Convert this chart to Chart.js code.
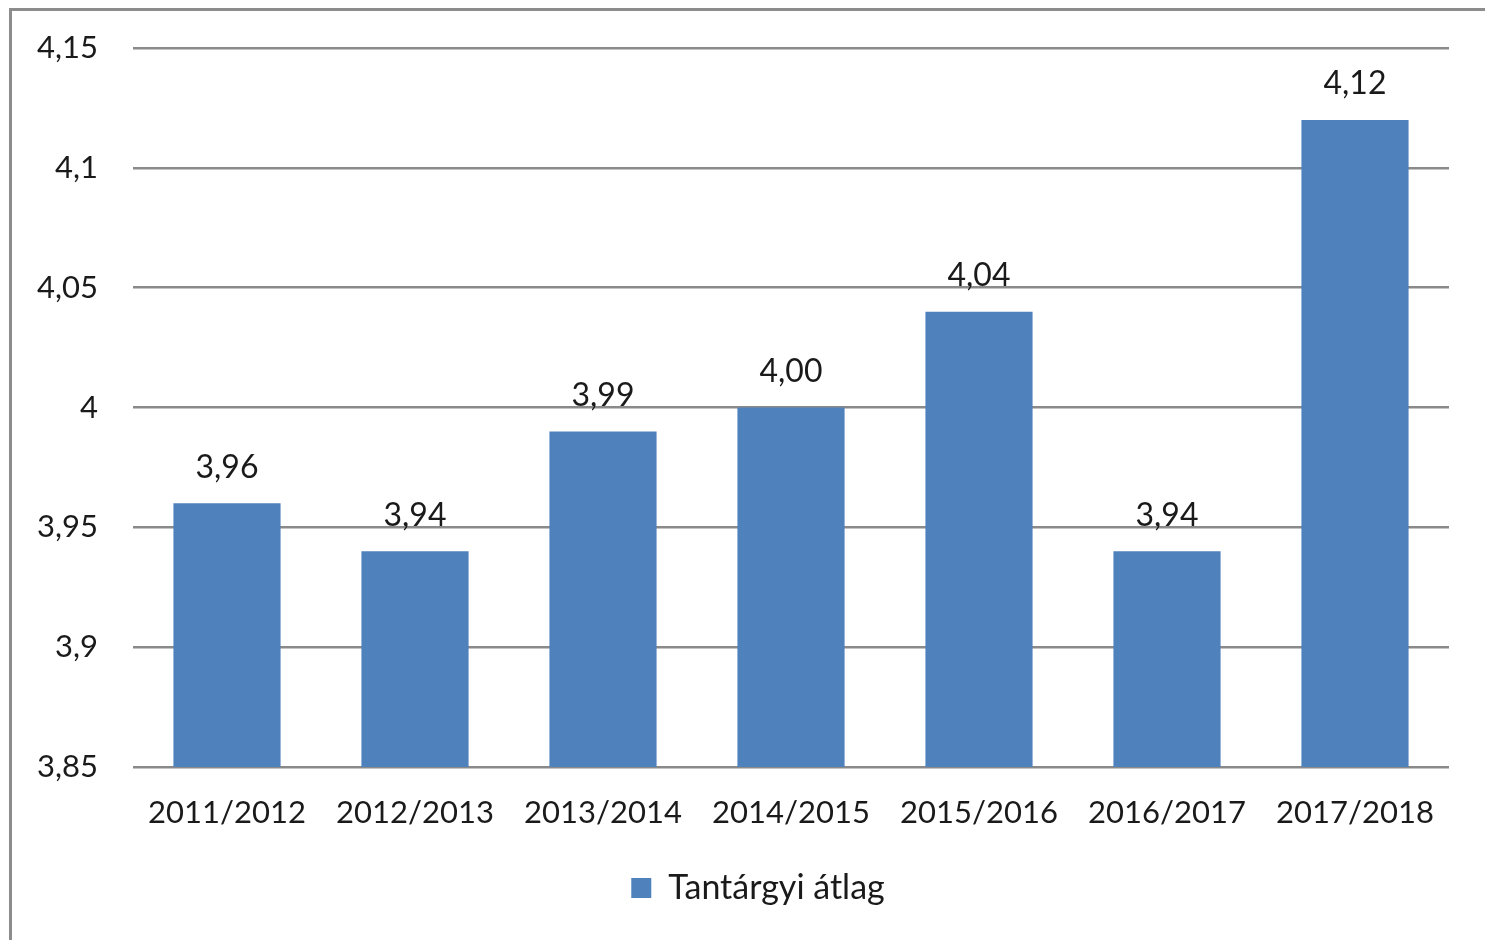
<!DOCTYPE html>
<html>
<head>
<meta charset="utf-8">
<script src="https://cdn.jsdelivr.net/npm/chart.js@4.4.0/dist/chart.umd.min.js"></script>
<style>
  html, body { margin: 0; padding: 0; background: #fff; overflow: hidden; }
  #wrap { position: absolute; left: 0; top: 0; width: 1520px; height: 940px; }
  #frame { position: absolute; left: 9px; top: 8px; width: 1600px; height: 1000px;
           border: 3px solid #8c8c8c; box-sizing: border-box; pointer-events: none; }
</style>
</head>
<body>
<div id="wrap"><canvas id="chart" width="1520" height="940"></canvas></div>
<div id="frame"></div>
<script>
const categories = ['2011/2012', '2012/2013', '2013/2014', '2014/2015', '2015/2016', '2016/2017', '2017/2018'];
const values = [3.96, 3.94, 3.99, 4.00, 4.04, 3.94, 4.12];
const seriesName = 'Tantárgyi átlag';
const yTicks = [3.85, 3.9, 3.95, 4, 4.05, 4.1, 4.15];

const FONT = 'Lato, "Open Sans", sans-serif';
const TEXT = '#1a1a1a';
const GRID = '#8a8a8a';

// value labels above the bars
const valueLabels = {
    id: 'valueLabels',
    afterDatasetsDraw(chart) {
        const ctx = chart.ctx;
        const meta = chart.getDatasetMeta(0);
        ctx.save();
        ctx.font = '32px ' + FONT;
        ctx.fillStyle = TEXT;
        ctx.textAlign = 'center';
        ctx.textBaseline = 'middle';
        meta.data.forEach((bar, i) => {
            ctx.fillText(values[i].toFixed(2).replace('.', ','), bar.x, bar.y - 36);
        });
        ctx.restore();
    }
};

// nudge the legend a bit to the right, like the original
const legendShift = {
    id: 'legendShift',
    afterLayout(chart) {
        const lg = chart.legend;
        if (!lg) return;
        const dx = 758 - (lg.left + lg.right) / 2;
        lg.left += dx;
        lg.right += dx;
    }
};

new Chart(document.getElementById('chart'), {
    type: 'bar',
    data: {
        labels: categories,
        datasets: [{
            label: seriesName,
            data: values,
            backgroundColor: '#4f81bd',
            borderWidth: 0,
            barPercentage: 0.57,
            categoryPercentage: 1
        }]
    },
    options: {
        responsive: false,
        animation: false,
        layout: { padding: { left: 20, right: 71, top: 48, bottom: 25 } },
        plugins: {
            legend: {
                position: 'bottom',
                labels: {
                    font: { family: FONT, size: 34 },
                    color: TEXT,
                    boxWidth: 20,
                    boxHeight: 20,
                    padding: 10
                }
            },
            tooltip: { enabled: false }
        },
        scales: {
            x: {
                grid: { display: false },
                border: { display: false },
                ticks: {
                    font: { family: FONT, size: 31 },
                    color: TEXT,
                    padding: 19,
                    maxRotation: 0
                },
                afterFit(scale) { scale.height = 94; }
            },
            y: {
                min: 3.85,
                max: 4.15,
                afterBuildTicks(scale) {
                    scale.ticks = yTicks.map(v => ({ value: v }));
                },
                grid: { color: GRID, lineWidth: 2.5, drawTicks: false },
                border: { display: false },
                ticks: {
                    font: { family: FONT, size: 31, lineHeight: 0.8 },
                    color: TEXT,
                    padding: 35,
                    callback: v => String(Math.round(v * 100) / 100).replace('.', ',')
                },
                afterFit(scale) { scale.width = 113; }
            }
        }
    },
    plugins: [valueLabels, legendShift]
});
</script>
</body>
</html>
